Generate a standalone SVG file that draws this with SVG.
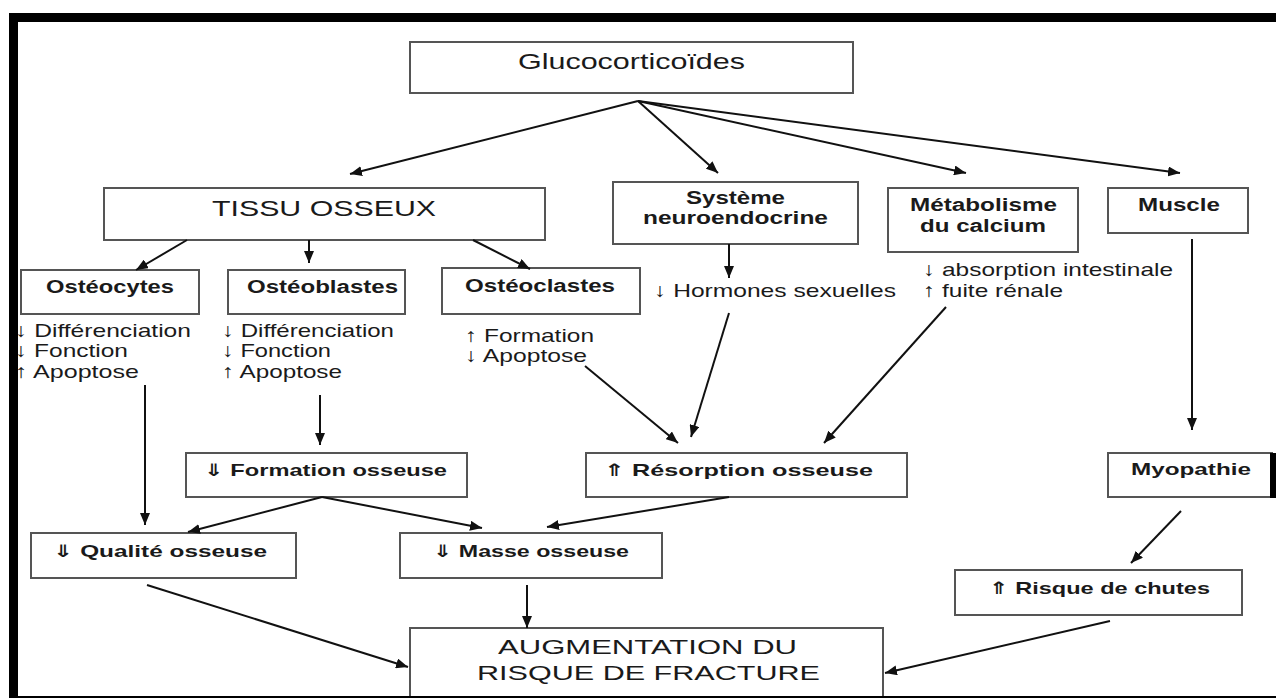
<svg xmlns="http://www.w3.org/2000/svg" width="1276" height="698" viewBox="0 0 1276 698">
<style>
.box{fill:#fff;stroke:#555;stroke-width:2}
.t{font-family:"Liberation Sans","DejaVu Sans",Arial,sans-serif;fill:#1a1a1a}
.r{font-size:19px}
.b{font-size:18px;font-weight:bold}
.bs{font-size:17px;font-weight:bold}
.big{font-size:22px}
.c line{stroke:#111;stroke-width:2;marker-end:url(#ah)}
.frame{fill:#000}
</style>
<defs>
<marker id="ah" viewBox="0 0 12 10" refX="12" refY="5" markerWidth="12" markerHeight="10" markerUnits="userSpaceOnUse" orient="auto">
<path d="M0,0 L12,5 L0,10 z" fill="#111"/>
</marker>
</defs>
<rect width="1276" height="698" fill="#fff"/>

<g id="glucocorticoides">
<rect class="box" x="410" y="42" width="443" height="51"/>
<text class="t big" x="518" y="69" textLength="227" lengthAdjust="spacingAndGlyphs">Glucocorticoïdes</text>
</g>
<g id="tissu-osseux">
<rect class="box" x="104" y="188" width="441" height="52"/>
<text class="t big" x="212" y="216" font-size="23" textLength="224" lengthAdjust="spacingAndGlyphs">TISSU OSSEUX</text>
</g>
<g id="osteocytes">
<rect class="box" x="21" y="270" width="178" height="44"/>
<text class="t b" x="46" y="293" textLength="128" lengthAdjust="spacingAndGlyphs">Ostéocytes</text>
</g>
<g id="osteocytes-effets">
<text class="t r" x="15" y="337" textLength="176" lengthAdjust="spacingAndGlyphs">↓ Différenciation</text>
<text class="t r" x="15" y="357" textLength="113" lengthAdjust="spacingAndGlyphs">↓ Fonction</text>
<text class="t r" x="15" y="378" textLength="124" lengthAdjust="spacingAndGlyphs">↑ Apoptose</text>
</g>
<g id="osteoblastes">
<rect class="box" x="228" y="270" width="177" height="44"/>
<text class="t b" x="247" y="293" textLength="151" lengthAdjust="spacingAndGlyphs">Ostéoblastes</text>
</g>
<g id="osteoblastes-effets">
<text class="t r" x="222" y="337" textLength="172" lengthAdjust="spacingAndGlyphs">↓ Différenciation</text>
<text class="t r" x="222" y="357" textLength="109" lengthAdjust="spacingAndGlyphs">↓ Fonction</text>
<text class="t r" x="222" y="378" textLength="120" lengthAdjust="spacingAndGlyphs">↑ Apoptose</text>
</g>
<g id="osteoclastes">
<rect class="box" x="442" y="268" width="198" height="46"/>
<text class="t b" x="465" y="292" textLength="150" lengthAdjust="spacingAndGlyphs">Ostéoclastes</text>
</g>
<g id="osteoclastes-effets">
<text class="t r" x="465" y="342" textLength="129" lengthAdjust="spacingAndGlyphs">↑ Formation</text>
<text class="t r" x="465" y="362" textLength="122" lengthAdjust="spacingAndGlyphs">↓ Apoptose</text>
</g>
<g id="systeme-neuroendocrine">
<rect class="box" x="613" y="182" width="245" height="62"/>
<text class="t b" x="686" y="204" textLength="99" lengthAdjust="spacingAndGlyphs">Système</text>
<text class="t b" x="643" y="224" textLength="185" lengthAdjust="spacingAndGlyphs">neuroendocrine</text>
</g>
<g id="hormones">
<text class="t r" x="654" y="297" textLength="242" lengthAdjust="spacingAndGlyphs">↓ Hormones sexuelles</text>
</g>
<g id="metabolisme-calcium">
<rect class="box" x="888" y="188" width="190" height="64"/>
<text class="t b" x="910" y="211" textLength="147" lengthAdjust="spacingAndGlyphs">Métabolisme</text>
<text class="t b" x="920" y="232" textLength="126" lengthAdjust="spacingAndGlyphs">du calcium</text>
</g>
<g id="calcium-effets">
<text class="t r" x="923" y="276" textLength="250" lengthAdjust="spacingAndGlyphs">↓ absorption intestinale</text>
<text class="t r" x="923" y="297" textLength="140" lengthAdjust="spacingAndGlyphs">↑ fuite rénale</text>
</g>
<g id="muscle">
<rect class="box" x="1108" y="188" width="140" height="45"/>
<text class="t b" x="1138" y="211" textLength="82" lengthAdjust="spacingAndGlyphs">Muscle</text>
</g>
<g id="formation-osseuse">
<rect class="box" x="186" y="453" width="281" height="44"/>
<text class="t bs" x="204" y="476" textLength="243" lengthAdjust="spacingAndGlyphs">⇓ Formation osseuse</text>
</g>
<g id="resorption-osseuse">
<rect class="box" x="586" y="453" width="321" height="44"/>
<text class="t bs" x="604" y="476" textLength="269" lengthAdjust="spacingAndGlyphs">⇑ Résorption osseuse</text>
</g>
<g id="myopathie">
<rect class="box" x="1108" y="453" width="164" height="44"/>
<text class="t bs" x="1131" y="475" textLength="120" lengthAdjust="spacingAndGlyphs">Myopathie</text>
</g>
<g id="qualite-osseuse">
<rect class="box" x="31" y="533" width="265" height="45"/>
<text class="t bs" x="53" y="557" textLength="214" lengthAdjust="spacingAndGlyphs">⇓ Qualité osseuse</text>
</g>
<g id="masse-osseuse">
<rect class="box" x="400" y="533" width="262" height="45"/>
<text class="t bs" x="433" y="557" textLength="196" lengthAdjust="spacingAndGlyphs">⇓ Masse osseuse</text>
</g>
<g id="risque-chutes">
<rect class="box" x="955" y="570" width="287" height="45"/>
<text class="t bs" x="989" y="594" textLength="221" lengthAdjust="spacingAndGlyphs">⇑ Risque de chutes</text>
</g>
<g id="augmentation-risque-fracture">
<rect class="box" x="410" y="628" width="473" height="72"/>
<text class="t" font-size="21" x="498" y="654" textLength="299" lengthAdjust="spacingAndGlyphs">AUGMENTATION DU</text>
<text class="t" font-size="21" x="477" y="680" textLength="343" lengthAdjust="spacingAndGlyphs">RISQUE DE FRACTURE</text>
</g>

<g id="connectors" class="c">
<line x1="638" y1="101" x2="350" y2="174"/>
<line x1="638" y1="101" x2="718" y2="173"/>
<line x1="638" y1="101" x2="966" y2="173"/>
<line x1="638" y1="101" x2="1180" y2="173"/>
<line x1="187" y1="240" x2="136" y2="270"/>
<line x1="309" y1="240" x2="309" y2="263"/>
<line x1="473" y1="240" x2="530" y2="269"/>
<line x1="729" y1="244" x2="729" y2="278"/>
<line x1="729" y1="313" x2="691" y2="437"/>
<line x1="585" y1="366" x2="678" y2="443"/>
<line x1="946" y1="307" x2="824" y2="443"/>
<line x1="1192" y1="239" x2="1192" y2="430"/>
<line x1="145" y1="385" x2="145" y2="525"/>
<line x1="320" y1="395" x2="320" y2="445"/>
<line x1="322" y1="497" x2="188" y2="532"/>
<line x1="322" y1="497" x2="482" y2="528"/>
<line x1="729" y1="497" x2="547" y2="527"/>
<line x1="147" y1="585" x2="408" y2="667"/>
<line x1="527" y1="585" x2="527" y2="628"/>
<line x1="1181" y1="511" x2="1131" y2="563"/>
<line x1="1110" y1="621" x2="885" y2="673"/>
</g>

<g id="frame">
<rect class="frame" x="9" y="13" width="1267" height="9"/>
<rect class="frame" x="9" y="13" width="9" height="685"/>
<rect class="frame" x="18" y="696" width="1258" height="2"/>
<rect class="frame" x="1270" y="453" width="6" height="45"/>
</g>
</svg>
